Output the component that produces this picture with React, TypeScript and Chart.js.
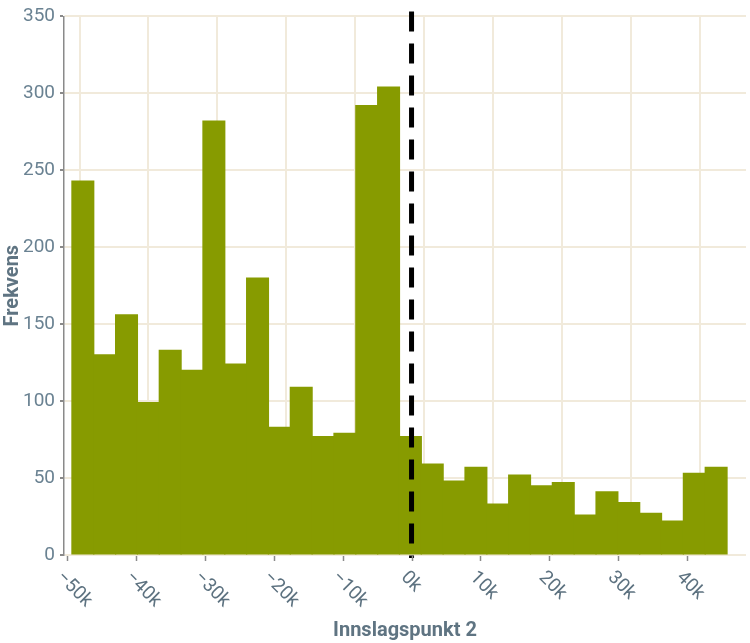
import React, { useEffect, useRef } from 'react';
import { Chart, registerables, Plugin } from 'chart.js';

Chart.register(...registerables);

// histogram bins (left edges) and counts
const binStarts = [
  -49300, -46130, -42960, -39790, -36620, -33450, -30280, -27110, -23940, -20770,
  -17600, -14430, -11260, -8090, -4920, -1750, 1420, 4590, 7760, 10930,
  14100, 17270, 20440, 23610, 26780, 29950, 33120, 36290, 39460, 42630,
];
const binWidth = 3170;
const frequencies = [
  243, 130, 156, 99, 133, 120, 282, 124, 180, 83,
  109, 77, 79, 292, 304, 77, 59, 48, 57, 33,
  52, 45, 47, 26, 41, 34, 27, 22, 53, 57,
];

const xTickValues = [-50000, -40000, -30000, -20000, -10000, 0, 10000, 20000, 30000, 40000];
const xTickLabels = ['−50k', '−40k', '−30k', '−20k', '−10k', '0k', '10k', '20k', '30k', '40k'];
const cutoff = 0;

const X_MIN = -50450;
const X_MAX = 48550;
const GRID_SHIFT = 1800; // vertical grid sits a little right of the tick marks

const FONT = 'Roboto, "Noto Sans", sans-serif';
const BAR_COLOR = '#879b00';
const GRID_COLOR = '#f1eadb';
const AXIS_COLOR = '#8a8a8a';
const TICK_TEXT = '#6a8292';
const XTICK_TEXT = '#5d7280';
const TITLE_TEXT = '#5f7482';

const xGrid: Plugin<'bar'> = {
  id: 'xGrid',
  beforeDatasetsDraw(chart) {
    const { ctx, chartArea, scales } = chart;
    ctx.save();
    ctx.strokeStyle = GRID_COLOR;
    ctx.lineWidth = 2;
    xTickValues.forEach((v) => {
      const x = Math.round(scales.x.getPixelForValue(v + GRID_SHIFT));
      ctx.beginPath();
      ctx.moveTo(x, chartArea.top);
      ctx.lineTo(x, chartArea.bottom);
      ctx.stroke();
    });
    ctx.restore();
  },
};

const cutoffLine: Plugin<'bar'> = {
  id: 'cutoffLine',
  afterDatasetsDraw(chart) {
    const { ctx, chartArea, scales } = chart;
    const x = scales.x.getPixelForValue(cutoff);
    ctx.save();
    ctx.strokeStyle = '#000';
    ctx.lineWidth = 5;
    ctx.setLineDash([20, 12]);
    ctx.beginPath();
    ctx.moveTo(x, chartArea.top - 5);
    ctx.lineTo(x, chartArea.bottom + 3);
    ctx.stroke();
    ctx.restore();
  },
};

const xAxisTicks: Plugin<'bar'> = {
  id: 'xAxisTicks',
  afterDraw(chart) {
    const { ctx, chartArea, scales } = chart;
    ctx.save();
    // tick marks
    ctx.strokeStyle = AXIS_COLOR;
    ctx.lineWidth = 1.5;
    xTickValues.forEach((v) => {
      const x = Math.round(scales.x.getPixelForValue(v)) + 0.5;
      ctx.beginPath();
      ctx.moveTo(x, chartArea.bottom + 1);
      ctx.lineTo(x, chartArea.bottom + 6);
      ctx.stroke();
    });
    // slanted labels
    ctx.fillStyle = XTICK_TEXT;
    ctx.font = `19px ${FONT}`;
    ctx.textAlign = 'left';
    ctx.textBaseline = 'top';
    xTickValues.forEach((v, i) => {
      const x = scales.x.getPixelForValue(v);
      ctx.save();
      ctx.translate(x - 1, chartArea.bottom + 13);
      ctx.rotate(Math.PI / 4);
      ctx.fillText(xTickLabels[i], 0, 0);
      ctx.restore();
    });
    ctx.restore();
  },
};

const App: React.FC = () => {
  const canvasRef = useRef<HTMLCanvasElement>(null);
  const chartRef = useRef<Chart<'bar'> | null>(null);

  useEffect(() => {
    document.body.style.margin = '0';
    if (!canvasRef.current) return;
    const ctx = canvasRef.current.getContext('2d');
    if (!ctx) return;
    if (chartRef.current) chartRef.current.destroy();

    const points = binStarts.map((s, i) => ({ x: s + binWidth / 2, y: frequencies[i] }));

    chartRef.current = new Chart(ctx, {
      type: 'bar',
      data: {
        datasets: [
          {
            data: points as any,
            backgroundColor: BAR_COLOR,
            borderWidth: 0,
            inflateAmount: 0.6,
            barPercentage: 1,
            categoryPercentage: 1,
          },
        ],
      },
      options: {
        responsive: false,
        animation: false,
        layout: { padding: { top: 14, right: 4, left: 0, bottom: 0 } },
        plugins: {
          legend: { display: false },
          tooltip: { enabled: false },
        },
        scales: {
          x: {
            type: 'linear',
            position: 'bottom',
            offset: false,
            min: X_MIN,
            max: X_MAX,
            ticks: { display: false, stepSize: 10000 },
            afterFit: (axis: any) => {
              axis.height = 88;
            },
            grid: { display: false, offset: false },
            border: { display: false },
            title: {
              display: true,
              text: 'Innslagspunkt 2',
              color: TITLE_TEXT,
              font: { family: FONT, size: 20, weight: 'bold' },
              padding: { top: 3, bottom: 0 },
            },
          },
          y: {
            min: 0,
            max: 350,
            ticks: {
              stepSize: 50,
              color: TICK_TEXT,
              padding: 5,
              font: { family: FONT, size: 19 },
            },
            afterFit: (axis: any) => {
              axis.width = 64;
            },
            grid: {
              color: GRID_COLOR,
              lineWidth: 2,
              tickLength: 4,
              tickColor: AXIS_COLOR,
            },
            border: { display: true, color: AXIS_COLOR, width: 1.5 },
            title: {
              display: true,
              text: 'Frekvens',
              color: TITLE_TEXT,
              font: { family: FONT, size: 20, weight: 'bold' },
              padding: { top: 1, bottom: 0 },
            },
          },
        },
      },
      plugins: [xGrid, cutoffLine, xAxisTicks],
    });

    return () => {
      if (chartRef.current) {
        chartRef.current.destroy();
        chartRef.current = null;
      }
    };
  }, []);

  return <canvas ref={canvasRef} width={750} height={643} />;
};

export default App;
